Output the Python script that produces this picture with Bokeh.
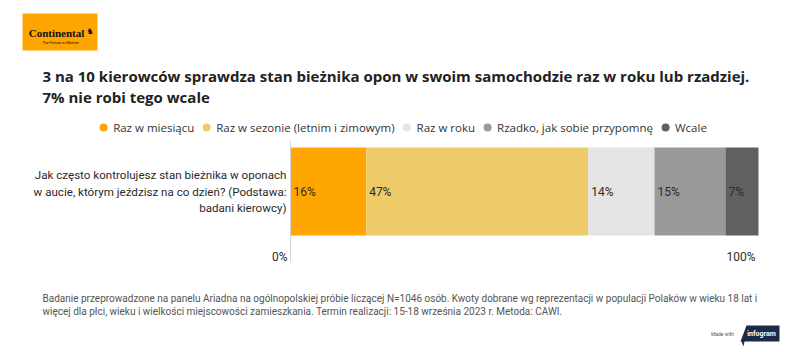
from bokeh.plotting import figure
from bokeh.layouts import column
from bokeh.models import Range1d, Legend, LegendItem, Label, ColumnDataSource, Span
from bokeh.core.properties import value
from bokeh.embed import file_html
from bokeh.resources import INLINE

# ---------------- data ----------------
categories = ["Raz w miesiącu", "Raz w sezonie (letnim i zimowym)", "Raz w roku",
              "Rzadko, jak sobie przypomnę", "Wcale"]
values = [16, 47, 14, 15, 7]
colors = ["#ffa600", "#efca6b", "#e4e4e4", "#999999", "#606060"]
question = "Jak często kontrolujesz stan bieżnika w oponach\nw aucie, którym jeździsz na co dzień? (Podstawa:\nbadani kierowcy)"
tick_values = [0, 100]
tick_labels = ["0%", "100%"]
title_lines = ["3 na 10 kierowców sprawdza stan bieżnika opon w swoim samochodzie raz w roku lub rzadziej.",
               "7% nie robi tego wcale"]
note_lines = ["Badanie przeprowadzone na panelu Ariadna na ogólnopolskiej próbie liczącej N=1046 osób. Kwoty dobrane wg reprezentacji w populacji Polaków w wieku 18 lat i",
              "więcej dla płci, wieku i wielkości miejscowości zamieszkania. Termin realizacji:  15-18 września 2023 r. Metoda: CAWI."]

W = 800
TXT = "#333333"


def blank(h):
    f = figure(width=W, height=h, x_range=Range1d(0, W), y_range=Range1d(h, 0),
               output_backend="svg", toolbar_location=None, min_border=0,
               outline_line_color=None)
    f.axis.visible = False
    f.grid.visible = False
    return f

# ---------------- header ----------------
hh = 114
head = blank(hh)
head.quad(left=[22], right=[97], top=[13], bottom=[50], fill_color="#ffa500", line_color=None)
head.text(x=[56], y=[32], text=["Continental"], text_font=value("Liberation Serif"),
          text_font_style="bold", text_font_size="11px", text_align="center",
          text_baseline="middle", text_color="#111111")
head.text(x=[86], y=[31], text=["♞"], text_font=value("DejaVu Sans"),
          text_font_size="8px", text_align="left", text_baseline="middle", text_color="#111111")
head.text(x=[60], y=[42], text=["The Future in Motion"], text_font=value("Roboto"),
          text_font_size="4px", text_align="center", text_baseline="middle", text_color="#111111")
head.text(x=[42, 42], y=[75, 96], text=title_lines, text_font=value("Open Sans"),
          text_font_style="bold", text_font_size="15px", text_align="left",
          text_baseline="middle", text_color="#222222")

# ---------------- legend ----------------
lh = 26
leg = blank(lh)
items = []
for i, (c, col) in enumerate(zip(categories, colors)):
    r = leg.circle(x=[values[i]], y=[-100], radius=1, fill_color=col, line_color=None)
    items.append(LegendItem(label=c, renderers=[r]))
legend = Legend(items=items, orientation="horizontal", location="center",
                glyph_width=20, glyph_height=20, label_standoff=0, spacing=2,
                padding=0, margin=0, border_line_color=None, background_fill_alpha=0,
                label_text_font="Open Sans", label_text_font_size="11.5px",
                label_text_color=TXT, label_height=20)
leg.add_layout(legend, "center")

# ---------------- main bar ----------------
total = sum(values)
starts = [sum(values[:i]) for i in range(len(values))]
ends = [s + v for s, v in zip(starts, values)]
src = ColumnDataSource(dict(left=starts, right=ends, y=[0] * len(values), color=colors,
                            lab=[f"{v}%" for v in values], cat=categories))

PX_L, PX_R = 290, 758          # bar extent on the canvas (layout)
sc = (PX_R - PX_L) / total
main = figure(width=W, height=150,
              x_range=Range1d(-PX_L / sc, total + (W - PX_R) / sc),
              y_range=Range1d(-0.807, 0.58),
              output_backend="svg", toolbar_location=None, min_border=0,
              min_border_bottom=28, outline_line_color=None)
main.grid.visible = False
main.axis.visible = False
main.hbar(y="y", left="left", right="right", height=1, fill_color="color",
          line_color=None, source=src)
main.text(x="left", y="y", text="lab", x_offset=3, text_baseline="middle", text_align="left",
          text_font=value("Roboto"), text_font_size="12px", text_color="#2a2a2a", source=src)

# axis line and end tick labels (0% at start, 100% at the full bar end)
main.add_layout(Span(location=0, dimension="height", line_color="#d6d6d6", line_width=1))
tick_x = [t / 100 * total for t in tick_values]
main.text(x=tick_x, y=[-0.739] * 2, text=tick_labels, x_offset=-3, text_align="right",
          text_baseline="middle", text_font=value("Roboto"), text_font_size="12px",
          text_color="#2a2a2a")

main.add_layout(Label(x=0, y=0, x_offset=-4, text=question, text_align="right",
                      text_baseline="middle", text_font="Roboto", text_font_size="11.6px",
                      text_color="#2a2a2a", text_line_height=1.2))

# ---------------- footer ----------------
fh = 62
foot = blank(fh)
foot.text(x=[42, 42], y=[8, 21], text=note_lines, text_font=value("Roboto"),
          text_font_size="10px", text_baseline="middle", text_align="left",
          text_color="#555555")
foot.text(x=[722], y=[43], text=["Made with"], text_font=value("Roboto"),
          text_font_size="5px", text_baseline="middle", text_align="center",
          text_color="#555555")
foot.patch(x=[746, 779, 779, 744, 743, 741, 740], y=[35, 35, 51, 51, 56, 51, 51],
           fill_color="#1b2a48", line_color=None)
foot.text(x=[761], y=[43], text=["infogram"], text_font=value("Roboto"),
          text_font_style="bold", text_font_size="7px", text_baseline="middle",
          text_align="center", text_color="white")

layout = column(head, leg, main, foot, spacing=0)
open("out.html", "w").write(file_html(layout, INLINE))
